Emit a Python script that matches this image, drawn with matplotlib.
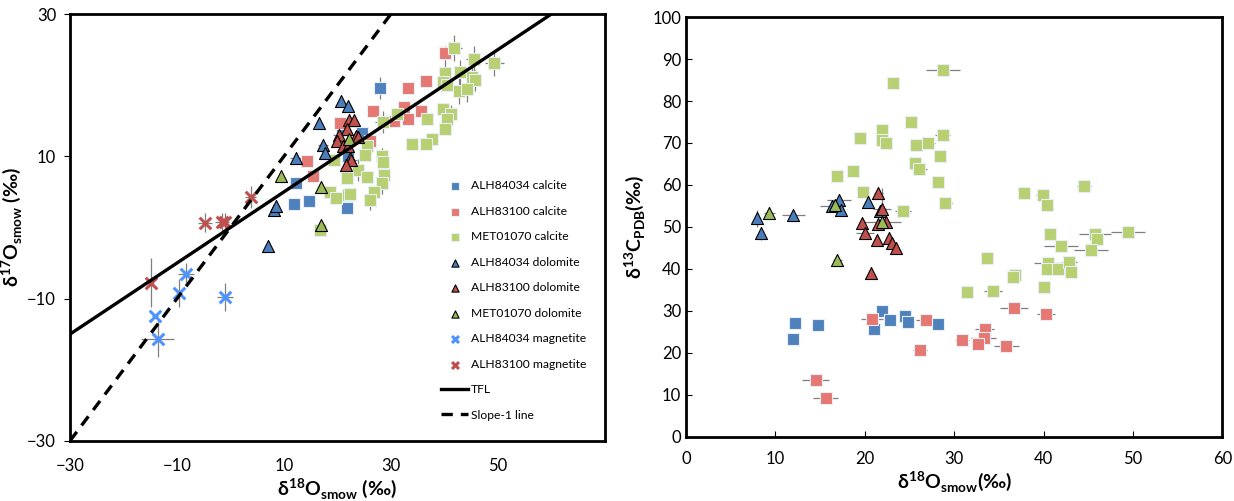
import matplotlib
matplotlib.use('Agg')
import matplotlib.pyplot as plt

plt.rcParams['font.family'] = ['Lato', 'DejaVu Sans']
plt.rcParams['mathtext.fontset'] = 'custom'
plt.rcParams['mathtext.rm'] = 'Lato'
plt.rcParams['mathtext.bf'] = 'Lato:bold'

# ---- left panel: d17O vs d18O ----
lc_alh84034_x = [12.2, 11.8, 14.6, 21.7, 28.0, 24.5, 20.8, 22.0]
lc_alh84034_y = [6.3, 3.3, 3.7, 2.7, 19.6, 13.3, 13.7, 10.0]
lc_alh84034_xerr = [0, 0, 0, 0, 1.0, 0, 0, 0]
lc_alh84034_yerr = [0, 0, 0, 0, 1.5, 0, 0, 0]

lc_alh83100_x = [14.3, 15.5, 20.5, 26.0, 26.6, 30.6, 32.4, 33.1, 33.2, 35.6, 36.5, 40.1]
lc_alh83100_y = [9.3, 7.2, 14.7, 12.2, 16.4, 14.9, 17.0, 15.3, 19.6, 16.4, 20.6, 24.5]
lc_alh83100_xerr = [1.0, 1.0, 0, 0, 1.0, 0, 0, 0, 1.0, 0, 1.0, 0.8]
lc_alh83100_yerr = [0, 0, 0, 0, 0, 0, 0, 0, 0, 0, 0, 1.0]

lc_met01070_x = [41.8, 45.6, 49.3, 40.1, 42.9, 39.8, 40.4, 45.1, 45.8, 42.7, 44.3, 39.8, 41.2,
                 40.4, 40.1, 36.7, 37.6, 36.5, 33.9, 31.2, 28.6, 28.3, 28.6, 28.7, 28.3, 19.3,
                 25.6, 25.1, 23.9, 25.6, 21.7, 18.6, 19.7, 21.9, 22.3, 26.9, 26.1, 16.7]
lc_met01070_y = [25.2, 23.7, 23.1, 21.7, 21.8, 20.5, 20.0, 21.2, 20.7, 19.2, 19.5, 16.6, 16.0,
                 15.2, 13.9, 15.2, 12.5, 11.7, 11.7, 16.0, 14.8, 10.0, 9.2, 7.4, 6.2, 9.5,
                 11.5, 10.2, 8.1, 7.1, 6.9, 5.0, 4.2, 4.6, 4.7, 5.0, 3.9, -0.3]
lc_met01070_xerr = [1.5, 1.5, 1.8, 1.2, 1.2, 0, 0, 1.0, 0, 0, 0, 1.0, 1.2,
                    0, 0, 0, 0, 0, 0, 0, 1.5, 0, 0, 0, 0, 0,
                    0, 0, 0, 0, 0, 0, 0, 0, 0, 0, 0, 0]
lc_met01070_yerr = [1.8, 1.8, 1.8, 1.8, 1.8, 0, 0, 1.5, 1.5, 1.8, 1.8, 0, 1.2,
                    0, 0, 0, 0, 0, 0, 0, 1.5, 1.2, 1.0, 1.5, 1.5, 0,
                    0, 0, 1.5, 0, 0, 0, 0, 0, 0, 0, 1.5, 0]

ld_alh84034_x = [7.0, 8.1, 8.6, 12.2, 16.6, 17.3, 17.6, 20.7, 21.9, 22.3]
ld_alh84034_y = [-2.6, 2.4, 3.0, 9.7, 14.7, 11.6, 10.4, 17.8, 17.1, 9.7]
ld_alh84034_xerr = [0, 0, 0, 1.0, 0, 1.0, 0, 0, 0, 0]
ld_alh84034_yerr = [0, 0, 0, 0, 0, 0, 0, 0, 0, 0]

ld_alh83100_x = [22.2, 23.1, 21.7, 20.2, 20.0, 21.1, 21.9, 23.5, 23.8, 22.6, 21.6]
ld_alh83100_y = [15.1, 15.1, 13.8, 13.0, 12.1, 11.5, 11.4, 12.8, 12.7, 9.5, 8.8]
ld_alh83100_xerr = [0, 0, 0, 1.0, 0, 0, 0, 0, 0, 1.0, 0]
ld_alh83100_yerr = [0, 0, 0, 0, 0, 0, 0, 0, 0, 0, 0]

ld_met01070_x = [9.5, 17.0, 17.0, 22.1]
ld_met01070_y = [7.3, 5.7, 0.3, 12.4]

lm_alh84034_x = [-8.3, -9.6, -1.0, -14.1, -13.6]
lm_alh84034_y = [-6.5, -9.2, -9.8, -12.4, -15.7]
lm_alh84034_xerr = [1.5, 0, 1.5, 0.5, 3.1]
lm_alh84034_yerr = [1.5, 2.0, 2.0, 0, 2.5]

lm_alh83100_x = [-14.9, -4.7, -1.6, -1.0, 3.8]
lm_alh83100_y = [-7.75, 0.67, 0.8, 0.8, 4.3]
lm_alh83100_xerr = [0.3, 1.3, 1.3, 0, 1.0]
lm_alh83100_yerr = [3.4, 1.3, 1.3, 1.2, 1.5]

tfl_slope = 0.5
slope1 = 1.0

# ---- right panel: d13C vs d18O ----
rc_alh84034_x = [21.9, 12.2, 14.8, 12.0, 22.8, 21.0, 24.5, 24.8, 28.2]
rc_alh84034_y = [30.0, 27.1, 26.7, 23.3, 27.9, 25.7, 28.9, 27.3, 26.9]
rc_alh84034_xerr = [0, 0, 0, 0, 0, 0.5, 0, 0, 0]

rc_alh83100_x = [36.7, 40.3, 20.8, 26.9, 33.4, 33.3, 30.9, 32.7, 35.8, 26.2, 14.5, 15.6]
rc_alh83100_y = [30.7, 29.2, 28.1, 27.9, 25.7, 23.5, 23.0, 22.2, 21.7, 20.7, 13.5, 9.3]
rc_alh83100_xerr = [1.6, 1.0, 1.2, 1.2, 1.1, 1.4, 0.8, 0.6, 1.4, 0.8, 1.5, 1.4]
rc_alh83100_yerr = [0, 0, 0, 1.0, 0, 0, 0, 0, 0, 0, 0, 1.5]

rc_met01070_x = [28.75, 23.2, 25.2, 21.9, 19.5, 21.9, 22.4, 28.7, 25.7, 27.1, 28.4, 25.6, 26.1,
                 28.2, 18.7, 16.9, 19.8, 29.0, 24.3, 37.8, 39.9, 40.4, 44.5, 40.7, 45.8, 46.0,
                 49.5, 41.9, 45.3, 33.7, 40.5, 40.4, 41.6, 42.9, 43.1, 36.8, 36.6, 40.1, 34.3, 31.4]
rc_met01070_y = [87.4, 84.2, 75.0, 73.2, 71.2, 70.6, 70.0, 72.0, 69.6, 70.0, 66.9, 65.3, 63.9,
                 60.8, 63.4, 62.2, 58.3, 55.8, 53.9, 58.1, 57.6, 55.2, 59.7, 48.3, 48.3, 47.1,
                 48.8, 45.4, 44.6, 42.6, 41.4, 40.1, 40.1, 41.7, 39.3, 38.5, 38.1, 35.7, 34.7, 34.4]
rc_met01070_xerr = [1.9, 0, 0, 0.5, 0, 0.5, 0, 0.8, 0, 0.8, 0, 0.5, 0.9,
                    0.6, 0, 0.6, 0.5, 0.7, 0.9, 0.5, 0.7, 0, 0.8, 0, 1.8, 0.7,
                    1.9, 1.9, 1.9, 0.5, 1.6, 0, 0, 0.8, 0, 0.6, 0, 0, 1.0, 0]

rd_alh84034_x = [7.97, 8.4, 12.0, 16.3, 17.1, 17.3, 20.4, 21.7]
rd_alh84034_y = [52.1, 48.5, 52.9, 54.9, 56.5, 54.0, 55.9, 53.9]
rd_alh84034_xerr = [0, 0, 1.3, 1.3, 1.3, 0, 0, 0]
rd_alh84034_yerr = [2.0, 1.5, 0, 0, 0, 0, 0, 0]

rd_alh83100_x = [21.5, 21.9, 19.7, 20.0, 21.5, 22.4, 21.4, 22.7, 23.0, 23.5, 20.7]
rd_alh83100_y = [58.0, 54.3, 50.9, 48.5, 50.8, 51.1, 46.9, 47.3, 46.1, 44.9, 39.1]
rd_alh83100_xerr = [0.5, 1.0, 0, 1.0, 0, 0, 0, 0, 0, 0, 0]
rd_alh83100_yerr = [0, 5.0, 0, 0, 0, 0, 0, 0, 0, 0, 0]

rd_met01070_x = [9.3, 16.7, 16.9, 21.9]
rd_met01070_y = [53.3, 55.2, 42.1, 51.1]
rd_met01070_xerr = [0.6, 0.6, 0.5, 2.2]

legend_labels = ['ALH84034 calcite', 'ALH83100 calcite', 'MET01070 calcite',
                 'ALH84034 dolomite', 'ALH83100 dolomite', 'MET01070 dolomite',
                 'ALH84034 magnetite', 'ALH83100 magnetite', 'TFL', 'Slope-1 line']

# colours
c_blue_sq = '#4F81BD'
c_red_sq = '#E57872'
c_green_sq = '#B8CF72'
c_blue_tri = '#4A7EBB'
c_red_tri = '#C0504D'
c_green_tri = '#9BBB59'
c_blue_x = '#4D94FF'
c_red_x = '#C0504D'
err_col = '#7F7F7F'


def errs(ax, x, y, xerr=None, yerr=None):
    ax.errorbar(x, y, xerr=xerr, yerr=yerr, fmt='none', ecolor=err_col,
                elinewidth=0.9, capsize=0, zorder=2)


def squares(ax, x, y, col, lab=None):
    ax.scatter(x, y, marker='s', s=72, c=col, edgecolors='#E8EEF6', linewidths=0.8,
               zorder=3, label=lab)


def triangles(ax, x, y, col, lab=None):
    ax.scatter(x, y, marker='^', s=75, c=col, edgecolors='black', linewidths=0.8,
               zorder=4, label=lab)


fig = plt.figure(figsize=(12.34, 5.01), dpi=100)
ax1 = fig.add_axes([0.0567, 0.12, 0.4335, 0.852])
ax2 = fig.add_axes([0.556, 0.128, 0.4345, 0.838])

# left panel
errs(ax1, lc_alh84034_x, lc_alh84034_y, lc_alh84034_xerr, lc_alh84034_yerr)
errs(ax1, lc_alh83100_x, lc_alh83100_y, lc_alh83100_xerr, lc_alh83100_yerr)
errs(ax1, lc_met01070_x, lc_met01070_y, lc_met01070_xerr, lc_met01070_yerr)
errs(ax1, ld_alh84034_x, ld_alh84034_y, ld_alh84034_xerr, ld_alh84034_yerr)
errs(ax1, ld_alh83100_x, ld_alh83100_y, ld_alh83100_xerr, ld_alh83100_yerr)
errs(ax1, lm_alh84034_x, lm_alh84034_y, lm_alh84034_xerr, lm_alh84034_yerr)
errs(ax1, lm_alh83100_x, lm_alh83100_y, lm_alh83100_xerr, lm_alh83100_yerr)

squares(ax1, lc_alh84034_x, lc_alh84034_y, c_blue_sq, legend_labels[0])
squares(ax1, lc_alh83100_x, lc_alh83100_y, c_red_sq, legend_labels[1])
squares(ax1, lc_met01070_x, lc_met01070_y, c_green_sq, legend_labels[2])
triangles(ax1, ld_alh84034_x, ld_alh84034_y, c_blue_tri, legend_labels[3])
triangles(ax1, ld_alh83100_x, ld_alh83100_y, c_red_tri, legend_labels[4])
triangles(ax1, ld_met01070_x, ld_met01070_y, c_green_tri, legend_labels[5])
ax1.scatter(lm_alh84034_x, lm_alh84034_y, marker='x', s=70, c=c_blue_x, linewidths=2.2,
            zorder=5, label=legend_labels[6])
ax1.scatter(lm_alh83100_x, lm_alh83100_y, marker='x', s=70, c=c_red_x, linewidths=2.2,
            zorder=5, label=legend_labels[7])

xl = [-30, 70]
ax1.plot(xl, [tfl_slope * v for v in xl], color='black', lw=2.4, zorder=6, label=legend_labels[8])
ax1.plot(xl, [slope1 * v for v in xl], color='black', lw=2.4, ls=(0, (3.4, 2.4)), zorder=6,
         label=legend_labels[9])

ax1.set_xlim(-30, 70)
ax1.set_ylim(-30, 30)
ax1.set_xticks([-30, -10, 10, 30, 50])
ax1.set_yticks([-30, -10, 10, 30])
ax1.tick_params(axis='x', length=0, labelsize=12, pad=12)
ax1.tick_params(axis='y', direction='out', length=4, labelsize=12, pad=6)
ax1.set_xlabel(r'δ$^{\mathbf{18}}$O$_{\mathbf{smow}}$ (‰)', fontsize=14, fontweight='bold', labelpad=2)
ax1.set_ylabel(r'δ$^{\mathbf{17}}$O$_{\mathbf{smow}}$ (‰)', fontsize=14, fontweight='bold', labelpad=2)

leg = ax1.legend(loc='upper left', bbox_to_anchor=(0.685, 0.622), frameon=False, fontsize=8.7,
                 labelspacing=1.2, handlelength=2.2, handletextpad=0.25, borderaxespad=0,
                 markerscale=0.6)

# right panel
errs(ax2, rc_alh84034_x, rc_alh84034_y, rc_alh84034_xerr, None)
errs(ax2, rc_alh83100_x, rc_alh83100_y, rc_alh83100_xerr, rc_alh83100_yerr)
errs(ax2, rc_met01070_x, rc_met01070_y, rc_met01070_xerr, None)
errs(ax2, rd_alh84034_x, rd_alh84034_y, rd_alh84034_xerr, rd_alh84034_yerr)
errs(ax2, rd_alh83100_x, rd_alh83100_y, rd_alh83100_xerr, rd_alh83100_yerr)
errs(ax2, rd_met01070_x, rd_met01070_y, rd_met01070_xerr, None)

squares(ax2, rc_alh84034_x, rc_alh84034_y, c_blue_sq)
squares(ax2, rc_alh83100_x, rc_alh83100_y, c_red_sq)
squares(ax2, rc_met01070_x, rc_met01070_y, c_green_sq)
triangles(ax2, rd_alh84034_x, rd_alh84034_y, c_blue_tri)
triangles(ax2, rd_alh83100_x, rd_alh83100_y, c_red_tri)
triangles(ax2, rd_met01070_x, rd_met01070_y, c_green_tri)

ax2.set_xlim(0, 60)
ax2.set_ylim(0, 100)
ax2.set_xticks(range(0, 61, 10))
ax2.set_yticks(range(0, 101, 10))
ax2.tick_params(direction='in', length=4, labelsize=12)
ax2.tick_params(axis='x', pad=10)
ax2.set_xlabel(r'δ$^{\mathbf{18}}$O$_{\mathbf{smow}}$(‰)', fontsize=14, fontweight='bold', labelpad=2)
ax2.set_ylabel(r'δ$^{\mathbf{13}}$C$_{\mathbf{PDB}}$(‰)', fontsize=14, fontweight='bold', labelpad=4)

for ax in (ax1, ax2):
    for sp in ax.spines.values():
        sp.set_linewidth(2.0)

fig.savefig('out.png', dpi=100)
